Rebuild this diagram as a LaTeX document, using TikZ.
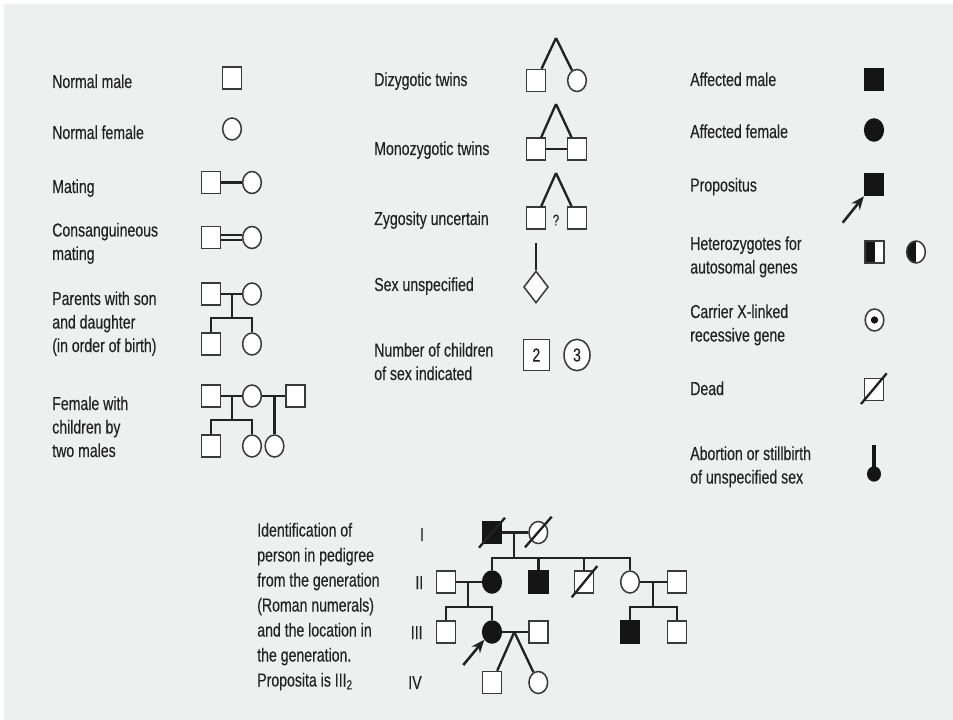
\documentclass[tikz,border=0pt]{standalone}
\usepackage{fontspec}
\setmainfont{Liberation Sans}[FakeStretch=0.75,FakeBold=0.25]
\usetikzlibrary{shapes.geometric,arrows.meta}
\definecolor{bgc}{HTML}{EEEFEF}
\definecolor{linec}{HTML}{222222}
\definecolor{shapec}{HTML}{3A3A3A}
\definecolor{txtc}{HTML}{222222}
\definecolor{fillc}{HTML}{151515}
\tikzset{
  male/.style={rectangle, draw=shapec, fill=white, line width=1.15pt, inner sep=0pt, minimum width=14pt, minimum height=16.5pt},
  female/.style={ellipse, draw=shapec, fill=white, line width=1.15pt, inner sep=0pt, minimum width=14pt, minimum height=16.5pt},
  aff/.style={fill=fillc, draw=fillc},
  halfaff/.style={path picture={\fill[fillc] (path picture bounding box.south west) rectangle (path picture bounding box.north);}},
  conn/.style={draw=linec, line width=1.75pt},
  lbl/.style={anchor=base west, inner sep=0pt, text=txtc, font=\fontsize{14.1pt}{18pt}\selectfont},
  rom/.style={anchor=base, inner sep=0pt, text=txtc, font=\fontsize{14.1pt}{18pt}\selectfont},
  arr/.style={draw=linec, line width=1.9pt, -{Stealth[length=10pt,width=8pt]}}
}
\begin{document}
\begin{tikzpicture}[x=0.75pt,y=-0.75pt]
\useasboundingbox (0,0) rectangle (953,720);
\fill[white] (0,0) rectangle (953,720);
\fill[bgc] (4,4) rectangle (953,720);

% ---------- left column ----------
\node[lbl] (tnm) at (52,88) {Normal male};
\node[lbl] (tnf) at (52,139) {Normal female};
\node[lbl] (tmat) at (52,193) {Mating};
\node[lbl] (tcon1) at (52,236.5) {Consanguineous};
\node[lbl] (tcon2) at (52,260) {mating};
\node[lbl] (tpar1) at (52,305) {Parents with son};
\node[lbl] (tpar2) at (52,328.5) {and daughter};
\node[lbl] (tpar3) at (52,352) {(in order of birth)};
\node[lbl] (tfem1) at (52,410) {Female with};
\node[lbl] (tfem2) at (52,433.5) {children by};
\node[lbl] (tfem3) at (52,457) {two males};

\node[male] (nm) at (232,78) {};
\node[female] (nf) at (232,129) {};

\node[male] (mm) at (211,182.5) {};
\node[female] (mf) at (252,182.5) {};
\draw[conn] (mm) -- (mf);

\node[male] (cm) at (211,237.5) {};
\node[female] (cf) at (252,237.5) {};
\draw[conn] ([yshift=1.9pt]cm.east) -- ([yshift=1.9pt]cf.west);
\draw[conn] ([yshift=-1.9pt]cm.east) -- ([yshift=-1.9pt]cf.west);

\node[male] (pm) at (211,294) {};
\node[female] (pf) at (252,294) {};
\draw[conn] (pm) -- (pf);
\coordinate (p1) at (232,294);
\coordinate (p2) at (232,318);
\draw[conn] (p1) -- (p2);
\node[male] (ps) at (211,344) {};
\node[female] (pd) at (252,344) {};
\draw[conn] (ps.north) |- (p2) -| (pd.north);

\node[male] (fm1) at (211,396) {};
\node[female] (ff) at (252,396) {};
\node[male] (fm2) at (295.5,396) {};
\draw[conn] (fm1) -- (ff);
\draw[conn] (ff) -- (fm2);
\coordinate (q1) at (232,396);
\coordinate (q2) at (232,420);
\draw[conn] (q1) -- (q2);
\node[male] (fc1) at (211,446) {};
\node[female] (fc2) at (252,446) {};
\node[female] (fc3) at (274.5,446) {};
\draw[conn] (fc1.north) |- (q2) -| (fc2.north);
\coordinate (q3) at (274.5,396);
\draw[conn] (q3) -- (fc3.north);

% ---------- middle column ----------
\node[lbl] (tdz) at (374,86) {Dizygotic twins};
\node[lbl] (tmz) at (374,155) {Monozygotic twins};
\node[lbl] (tzy) at (374,225) {Zygosity uncertain};
\node[lbl] (tsu) at (374,291) {Sex unspecified};
\node[lbl] (tnc1) at (374,356.5) {Number of children};
\node[lbl] (tnc2) at (374,380) {of sex indicated};

\coordinate (dza) at (556,38);
\node[male] (dz1) at (536,80.5) {};
\node[female] (dz2) at (577,80.5) {};
\draw[conn] (dza) -- (dz1);
\draw[conn] (dza) -- (dz2);

\coordinate (mza) at (556,104);
\node[male] (mz1) at (536,149) {};
\node[male] (mz2) at (577,149) {};
\draw[conn] (mza) -- (mz1);
\draw[conn] (mza) -- (mz2);
\draw[conn] (mz1) -- (mz2);

\coordinate (zya) at (556,173);
\node[male] (zy1) at (536,218) {};
\node[male] (zy2) at (577,218) {};
\draw[conn] (zya) -- (zy1);
\draw[conn] (zya) -- (zy2);
\node[rom, anchor=center, font=\fontsize{11.5pt}{12pt}\selectfont] (zyq) at (556,220) {?};

\coordinate (su0) at (536,243);
\node[diamond, draw=shapec, fill=white, line width=1.15pt, inner sep=0pt, minimum width=18.5pt, minimum height=24pt] (su) at (536,287) {};
\draw[conn] (su0) -- (su.north);

\node[rectangle, draw=shapec, fill=white, line width=1.15pt, inner sep=0pt, minimum width=19.5pt, minimum height=23.5pt, text=txtc, font=\fontsize{14.1pt}{18pt}\selectfont] (n2) at (536.3,355) {2};
\node[ellipse, draw=shapec, fill=white, line width=1.15pt, inner sep=0pt, minimum width=19.5pt, minimum height=23.5pt, text=txtc, font=\fontsize{14.1pt}{18pt}\selectfont] (n3) at (577,355) {3};

% ---------- right column ----------
\node[lbl] (tam) at (690,86) {Affected male};
\node[lbl] (taf) at (690,138) {Affected female};
\node[lbl] (tpr) at (690,191.5) {Propositus};
\node[lbl] (the1) at (690,250) {Heterozygotes for};
\node[lbl] (the2) at (690,273.5) {autosomal genes};
\node[lbl] (tca1) at (690,318) {Carrier X-linked};
\node[lbl] (tca2) at (690,341.5) {recessive gene};
\node[lbl] (tde) at (690,395) {Dead};
\node[lbl] (tab1) at (690,460) {Abortion or stillbirth};
\node[lbl] (tab2) at (690,483.5) {of unspecified sex};

\node[male, aff] (am) at (874,79.5) {};
\node[female, aff] (af) at (874,130) {};
\node[male, aff] (pr) at (874,184.5) {};
\coordinate (pra) at (842.7,222.7);
\draw[arr] (pra) -- (pr.south west);

\node[male, halfaff] (hm) at (874.5,252) {};
\node[female, halfaff] (hf) at (916,252) {};

\node[female] (cx) at (874.5,320) {};
\node[circle, fill=fillc, inner sep=0pt, minimum size=5.5pt] (cxd) at (cx.center) {};

\node[male] (dd) at (874,389.5) {};
\coordinate (dd1) at (861,404);
\coordinate (dd2) at (886.7,373.3);
\draw[conn] (dd1) -- (dd2);

\coordinate (ab0) at (874,445);
\node[ellipse, fill=fillc, inner sep=0pt, minimum width=10.5pt, minimum height=11.5pt] (ab) at (874,474) {};
\draw[draw=fillc, line width=2.7pt] (ab0) -- (ab.center);

% ---------- pedigree ----------
\node[lbl] (tid1) at (257,536.5) {Identification of};
\node[lbl] (tid2) at (257,561.5) {person in pedigree};
\node[lbl] (tid3) at (257,586.5) {from the generation};
\node[lbl] (tid4) at (257,611.5) {(Roman numerals)};
\node[lbl] (tid5) at (257,636.5) {and the location in};
\node[lbl] (tid6) at (257,661.5) {the generation.};
\node[lbl] (tid7) at (257,686.5) {Proposita is III\textsubscript{2}};

\node[rom] (rI) at (422,541) {I};
\node[rom] (rII) at (419.3,589) {II};
\node[rom] (rIII) at (416.7,639) {III};
\node[rom] (rIV) at (415,689) {IV};

% generation I
\node[male, aff] (I1) at (492,532.5) {};
\node[female] (I2) at (538.3,532.5) {};
\draw[conn] (I1) -- (I2);
\coordinate (s1a) at (479,547.7); \coordinate (s1b) at (505,517.7);
\draw[conn] (s1a) -- (s1b);
\coordinate (s2a) at (525,547.3); \coordinate (s2b) at (551.7,516.7);
\draw[conn] (s2a) -- (s2b);
\coordinate (j1) at (514.3,532.5);
\coordinate (j1b) at (514.3,557.7);
\draw[conn] (j1) -- (j1b);

% generation II
\node[male] (II1) at (446,582) {};
\node[female, aff] (II2) at (492,582) {};
\node[male, aff] (II3) at (538.5,582) {};
\node[male] (II4) at (584,582) {};
\node[female] (II5) at (630,582) {};
\node[male] (II6) at (677,582) {};
\coordinate (s3a) at (571.7,597.3); \coordinate (s3b) at (597.3,566);
\draw[conn] (s3a) -- (s3b);
\draw[conn] (II2.north) |- (j1b) -| (II5.north);
\coordinate (k3) at (538.5,557.7);
\coordinate (k4) at (584,557.7);
\draw[conn] (k3) -- (II3.north);
\draw[conn] (k4) -- (II4.north);
\draw[conn] (II1) -- (II2);
\draw[conn] (II5) -- (II6);
\coordinate (j2) at (467.7,582);
\coordinate (j2b) at (467.7,606.7);
\draw[conn] (j2) -- (j2b);
\coordinate (j3) at (653.3,582);
\coordinate (j3b) at (653.3,606.7);
\draw[conn] (j3) -- (j3b);

% generation III
\node[male] (III1) at (446,632) {};
\node[female, aff] (III2) at (492,632) {};
\node[male] (III3) at (538.5,632) {};
\node[male, aff] (III4) at (630,632) {};
\node[male] (III5) at (677,632) {};
\draw[conn] (III1.north) |- (j2b) -| (III2.north);
\draw[conn] (III4.north) |- (j3b) -| (III5.north);
\draw[conn] (III2) -- (III3);
\coordinate (j4) at (514.3,632);
\coordinate (pa) at (463.3,665);
\draw[arr] (pa) -- (III2.225);

% generation IV
\node[male] (IV1) at (492,682.5) {};
\node[female] (IV2) at (538.3,682.5) {};
\draw[conn] (j4) -- (IV1);
\draw[conn] (j4) -- (IV2);
\end{tikzpicture}
\end{document}
